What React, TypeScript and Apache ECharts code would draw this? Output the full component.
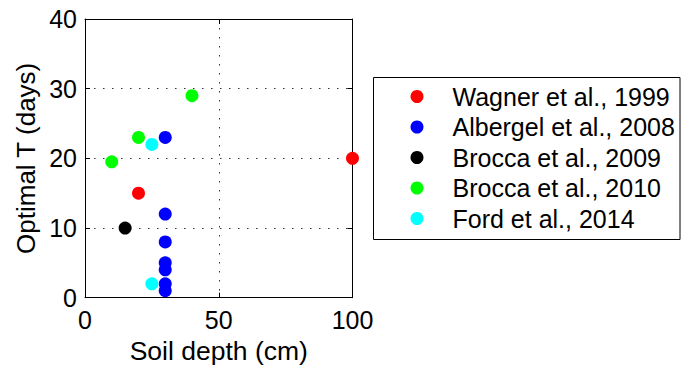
import React, { useEffect, useRef } from "react";
import * as echarts from "echarts";

const seriesNames = [
  "Wagner et al., 1999",
  "Albergel et al., 2008",
  "Brocca et al., 2009",
  "Brocca et al., 2010",
  "Ford et al., 2014",
];
const seriesColors = ["#ff0000", "#0000ff", "#000000", "#00ff00", "#00ffff"];

const wagner: [number, number][] = [[20, 15], [100, 20]];
const albergel: [number, number][] = [[30, 23], [30, 12], [30, 8], [30, 5], [30, 4], [30, 2], [30, 1]];
const brocca2009: [number, number][] = [[15, 10]];
const brocca2010: [number, number][] = [[10, 19.5], [20, 23], [40, 29]];
const ford: [number, number][] = [[25, 22], [25, 2]];

const seriesData = [wagner, albergel, brocca2009, brocca2010, ford];

const xTicks = [0, 50, 100];
const yTicks = [0, 10, 20, 30, 40];

const FONT = "Liberation Sans, Arial, Helvetica, sans-serif";

export default function App() {
  const ref = useRef<HTMLDivElement>(null);
  useEffect(() => {
    if (!ref.current) return;
    const chart = echarts.init(ref.current, undefined, { renderer: "svg" });
    const axisCommon = {
      axisLine: { show: true, onZero: false, lineStyle: { color: "#000", width: 1 } },
      axisTick: { show: true, inside: true, length: 5, lineStyle: { color: "#000" } },
    };
    chart.setOption({
      animation: false,
      backgroundColor: "#fff",
      textStyle: { fontFamily: FONT },
      grid: {
        left: 85,
        top: 19,
        width: 267.5,
        height: 278.7,
        containLabel: false,
        outerBoundsMode: "none",
      },
      xAxis: [
        {
          type: "value",
          min: xTicks[0],
          max: xTicks[xTicks.length - 1],
          interval: 50,
          name: "Soil depth (cm)",
          nameLocation: "middle",
          nameGap: 29,
          nameTextStyle: { fontSize: 26.5, color: "#000", fontFamily: FONT },
          ...axisCommon,
          axisLabel: { fontSize: 25, color: "#000", margin: 10, fontFamily: FONT },
          splitLine: { show: true, lineStyle: { color: "#333", type: [1.5, 7.5], width: 1 } },
        },
        {
          type: "value",
          position: "top",
          min: xTicks[0],
          max: xTicks[xTicks.length - 1],
          interval: 50,
          ...axisCommon,
          axisLabel: { show: false },
          splitLine: { show: false },
        },
      ],
      yAxis: [
        {
          type: "value",
          min: yTicks[0],
          max: yTicks[yTicks.length - 1],
          interval: 10,
          name: "Optimal T (days)",
          nameLocation: "middle",
          nameGap: 46,
          nameTextStyle: { fontSize: 26, color: "#000", fontFamily: FONT },
          ...axisCommon,
          axisLabel: { fontSize: 25, color: "#000", margin: 8, fontFamily: FONT },
          splitLine: { show: true, lineStyle: { color: "#333", type: [1.5, 7.5], width: 1 } },
        },
        {
          type: "value",
          position: "right",
          min: yTicks[0],
          max: yTicks[yTicks.length - 1],
          interval: 10,
          ...axisCommon,
          axisLabel: { show: false },
          splitLine: { show: false },
        },
      ],
      legend: {
        orient: "vertical",
        left: 410.5,
        top: 84,
        padding: 0,
        itemWidth: 13,
        itemHeight: 13,
        itemGap: 5.5,
        icon: "circle",
        textStyle: { fontSize: 25, color: "#000", fontFamily: FONT, padding: [0, 0, 0, 24] },
        data: seriesNames,
      },
      graphic: [
        {
          type: "rect",
          shape: { x: 373.5, y: 77.5, width: 306.5, height: 162 },
          style: { fill: "none", stroke: "#000", lineWidth: 1 },
          z: 100,
        },
      ],
      series: seriesData.map((d, i) => ({
        type: "scatter",
        name: seriesNames[i],
        data: d,
        symbol: "circle",
        symbolSize: 13,
        itemStyle: { color: seriesColors[i], opacity: 1 },
        clip: false,
      })),
    });
    return () => chart.dispose();
  }, []);
  return (
    <div
      ref={ref}
      style={{ position: "fixed", left: 0, top: 0, width: 681, height: 365 }}
    />
  );
}
